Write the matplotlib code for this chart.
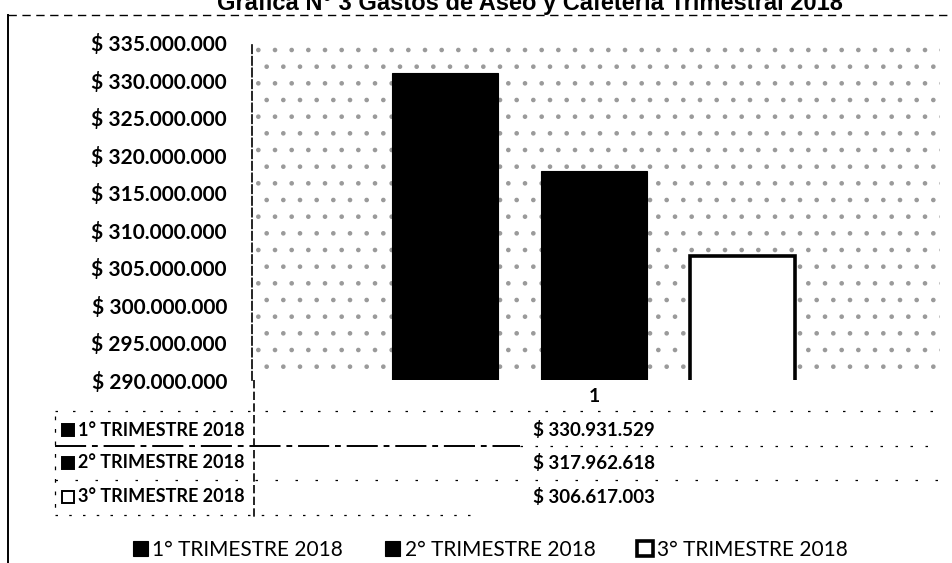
import numpy as np
import matplotlib.pyplot as plt
from matplotlib.patches import Rectangle
from matplotlib.lines import Line2D

# data
series = ["1° TRIMESTRE 2018", "2° TRIMESTRE 2018", "3° TRIMESTRE 2018"]
values = [330931529, 317962618, 306617003]
category = ["1"]
fills = ["black", "black", "white"]
yticks = np.arange(290000000, 335000001, 5000000)

title = "Gráfica N° 3 Gastos de Aseo y Cafetería Trimestral 2018"


def pesos(v):
    return "$ " + f"{v:,.0f}".replace(",", ".")


plt.rcParams['font.family'] = ['Lato', 'DejaVu Sans']
plt.rcParams['hatch.linewidth'] = 0.9

W, H = 953, 563
fig = plt.figure(figsize=(W / 100, H / 100), dpi=100)


def fx(px):
    return px / W


def fy(py):
    return 1 - py / H


# plot area (pixel box)
ax = fig.add_axes([fx(252), fy(380), fx(940) - fx(252), fy(43) - fy(380)])
ax.set_ylim(290000000, 335000000)
ax.set_xlim(-2.30, 2.33)
# speckled scan texture of the plot background
ax.add_patch(Rectangle((0, 0), 1, 1.02, transform=ax.transAxes, facecolor='white',
                       edgecolor='#9a9a9a', linewidth=0, hatch='.', zorder=0,
                       clip_on=False))

width = 0.71
for i, (s, v, c) in enumerate(zip(series, values, fills)):
    lw = 2.6 if c == 'white' else 0.8
    ax.bar(i - 1, v, width=width, bottom=0, color=c, edgecolor='black',
           linewidth=lw, zorder=2, label=s)

ax.set_yticks(yticks)
ax.set_yticklabels([pesos(t) for t in yticks], fontsize=15, fontweight='bold')
ax.tick_params(axis='y', length=0, pad=18)
ax.set_xticks([])
for side in ['top', 'right', 'bottom']:
    ax.spines[side].set_visible(False)
ax.spines['left'].set_linestyle((0, (5, 2)))
ax.spines['left'].set_linewidth(1.2)

# category label under the bars
fig.text(fx(594), fy(397), category[0], ha='center', va='center',
         fontsize=14, fontweight='bold')

# data table
row_y = [430, 463, 497]
for y, s, v, c in zip(row_y, series, values, fills):
    fig.patches.append(Rectangle((fx(62), fy(y + 6)), fx(12), fy(y - 6) - fy(y + 6),
                                 transform=fig.transFigure, facecolor=c,
                                 edgecolor='black', linewidth=1.4))
    fig.text(fx(78), fy(y), s, ha='left', va='center', fontsize=13, fontweight='bold')
    fig.text(fx(594), fy(y), pesos(v), ha='center', va='center', fontsize=13.5,
             fontweight='bold')

lines = [
    ((55, 940), (411, 411), (0, (2, 12)), 0.9),
    ((55, 520), (446, 446), (0, (16, 3, 3, 3)), 1.4),
    ((520, 940), (446, 446), (0, (2, 10)), 0.9),
    ((55, 940), (480, 480), (0, (2, 14)), 0.9),
    ((55, 470), (515, 515), (0, (2, 9)), 0.9),
    ((254, 254), (380, 517), (0, (5, 2)), 1.2),
    ((55, 55), (416, 512), (0, (3, 7)), 0.9),
]
for xs, ys, ls, lw in lines:
    fig.add_artist(Line2D([fx(x) for x in xs], [fy(y) for y in ys],
                          color='black', linestyle=ls, linewidth=lw))

# scanned page border
fig.add_artist(Line2D([fx(8), fx(8)], [fy(15), fy(563)], color='black', linewidth=1.4))
fig.add_artist(Line2D([fx(8), fx(950)], [fy(15), fy(15)], color='black',
                      linewidth=1.0, linestyle=(0, (6, 4))))

# title, cut off at the top of the scan
fig.text(fx(530), fy(10), title, ha='center', va='baseline', fontsize=17,
         fontweight='bold', family=['Liberation Sans', 'DejaVu Sans'])

# legend
handles, labels = ax.get_legend_handles_labels()
fig.legend(handles, labels, loc='center', bbox_to_anchor=(fx(490), fy(550)), ncol=3,
           frameon=False, fontsize=15, handlelength=0.75, handleheight=0.75,
           handletextpad=0.2, columnspacing=2.0)

fig.savefig("out.png", dpi=100)
